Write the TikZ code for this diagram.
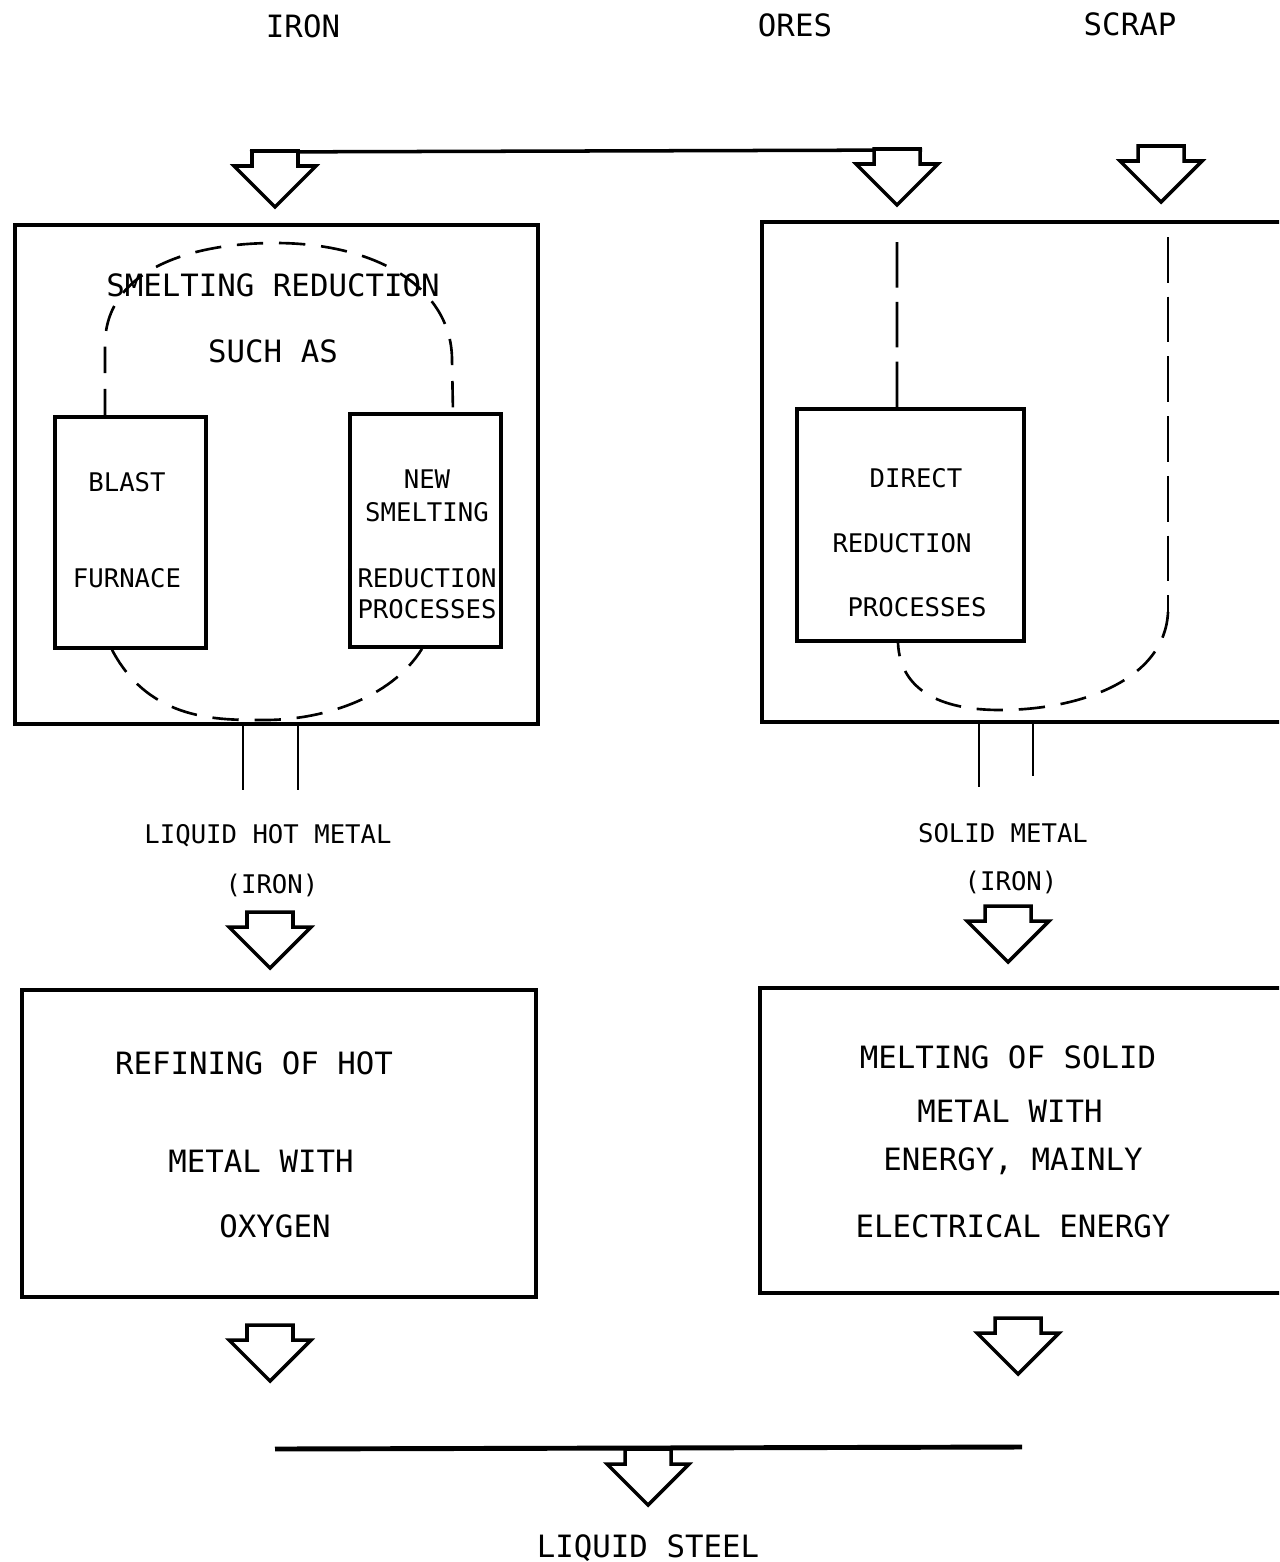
\documentclass[tikz,border=0pt]{standalone}
\usepackage{fontspec}
\usepackage{tikz}
\usetikzlibrary{positioning}
\newfontfamily\scanfont{DejaVu Sans Mono}
\newcommand\biglab{\scanfont\fontsize{17.5}{21}\selectfont}
\newcommand\smalllab{\scanfont\fontsize{14.6}{17}\selectfont}

\tikzset{
  downarrow/.pic={
    \draw[line width=2pt, line join=miter, fill=white]
      (-23,0) -- (23,0) -- (23,15) -- (41,15) -- (0,56) -- (-41,15) -- (-23,15) -- cycle;
  }
}

\begin{document}
\begin{tikzpicture}[
  x=0.02cm, y=-0.02cm,
  bigbox/.style={draw, line width=2.3pt, inner sep=0pt},
  subbox/.style={draw, line width=2.1pt, inner sep=0pt},
  lbig/.style={font=\biglab, inner sep=0pt},
  lsmall/.style={font=\smalllab, inner sep=0pt},
  collector/.style={line width=2pt},
  pipe/.style={line width=1.3pt},
  dashloop/.style={line width=1.5pt, dash pattern=on 15pt off 9pt},
  feed/.style={line width=1.5pt, dash pattern=on 26pt off 8pt}
]
  \useasboundingbox (0,0) rectangle (1279,1562);
  \clip (0,0) rectangle (1279,1562);

  % raw materials
  \node[lbig] (iron) at (303,26) {IRON};
  \node[lbig] (ores) at (795,25) {ORES};
  \node[lbig] (scrap) at (1130,24) {SCRAP};

  \draw[collector] (250,152) -- (922,150);
  \pic at (275,151) {downarrow};
  \pic at (897,149) {downarrow};
  \pic at (1161,146) {downarrow};

  % reduction stage
  \node[bigbox, minimum width=10.46cm, minimum height=9.98cm] (smelt) at (276.5,474.5) {};
  \node[bigbox, minimum width=10.76cm, minimum height=10cm] (dirred) at (1031,472) {};
  \node[subbox, minimum width=3.02cm, minimum height=4.62cm] (blast) at (130.5,532.5) {};
  \node[subbox, minimum width=3.02cm, minimum height=4.66cm] (newsmelt) at (425.5,530.5) {};
  \node[subbox, minimum width=4.54cm, minimum height=4.64cm] (direct) at (910.5,525) {};

  \node[lbig] (smelttitle) at (273,285) {SMELTING REDUCTION};
  \node[lbig] (suchas) at (273,351) {SUCH AS};
  \node[lsmall] (blast1) at (127,482) {BLAST};
  \node[lsmall] (blast2) at (127,578) {FURNACE};
  \node[lsmall] (newsm1) at (427,479) {NEW};
  \node[lsmall] (newsm2) at (427,512) {SMELTING};
  \node[lsmall] (newsm3) at (427,578) {REDUCTION};
  \node[lsmall] (newsm4) at (427,609) {PROCESSES};
  \node[lsmall] (direct1) at (916,478) {DIRECT};
  \node[lsmall] (direct2) at (902,543) {REDUCTION};
  \node[lsmall] (direct3) at (917,607) {PROCESSES};

  \draw[dashloop] ([xshift=-0.51cm]blast.north) -- (105,345)
    .. controls (105,270) and (190,243) .. (275,243)
    .. controls (380,243) and (452,290) .. (452,360)
    -- ([xshift=0.55cm]newsmelt.north);
  \draw[dashloop] ([xshift=-0.37cm]blast.south)
    .. controls (150,722) and (220,720) .. (265,720)
    .. controls (320,720) and (390,700) .. ([xshift=-0.07cm]newsmelt.south);

  \draw[feed] ([xshift=-0.27cm]direct.north) -- (897,237);
  \draw[feed] (1168,237) -- (1168,612);
  \draw[dashloop] (1168,612)
    .. controls (1165,680) and (1080,710) .. (1000,710)
    .. controls (940,710) and (900,690) .. ([xshift=-0.25cm]direct.south);

  % intermediate products
  \draw[pipe] ([xshift=-0.67cm]smelt.south) -- ++(0,64);
  \draw[pipe] ([xshift=0.43cm]smelt.south) -- ++(0,64);
  \draw[pipe] ([xshift=-1.04cm]dirred.south) -- ++(0,63);
  \draw[pipe] ([xshift=0.04cm]dirred.south) -- ++(0,52);

  \node[lsmall] (hotmetal) at (268,836) {LIQUID HOT METAL};
  \node[lsmall] (hotiron) at (272,885) {(IRON)};
  \node[lsmall] (solidmetal) at (1003,833) {SOLID METAL};
  \node[lsmall] (solidiron) at (1011,882) {(IRON)};

  \pic at (270,912) {downarrow};
  \pic at (1008,906) {downarrow};

  % steelmaking stage
  \node[bigbox, minimum width=10.28cm, minimum height=6.14cm] (refine) at (279,1143.5) {};
  \node[bigbox, minimum width=10.8cm, minimum height=6.1cm] (melt) at (1030,1140.5) {};

  \node[lbig] (refine1) at (254,1063) {REFINING OF HOT};
  \node[lbig] (refine2) at (261,1161) {METAL WITH};
  \node[lbig] (refine3) at (275,1226) {OXYGEN};
  \node[lbig] (melt1) at (1008,1057) {MELTING OF SOLID};
  \node[lbig] (melt2) at (1010,1111) {METAL WITH};
  \node[lbig] (melt3) at (1013,1161) {ENERGY, MAINLY};
  \node[lbig] (melt4) at (1013,1226) {ELECTRICAL ENERGY};

  \pic at (270,1325) {downarrow};
  \pic at (1018,1318) {downarrow};

  \draw[collector, line width=2.8pt] (275,1449) -- (1022,1447);
  \pic at (648,1449) {downarrow};
  \node[lbig] (steel) at (648,1548) {LIQUID STEEL};
\end{tikzpicture}
\end{document}
